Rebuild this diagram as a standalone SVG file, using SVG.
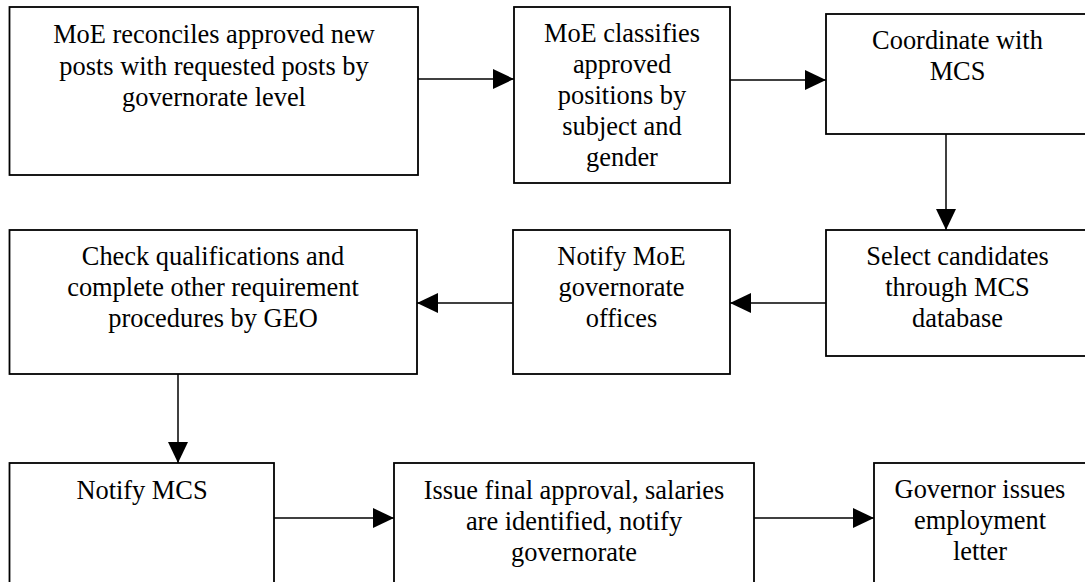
<svg xmlns="http://www.w3.org/2000/svg" width="1085" height="582" viewBox="0 0 1085 582">
  <style>
    .box { fill: #ffffff; stroke: #000000; stroke-width: 1.8; }
    .lbl { font-family: "Liberation Serif", "Times New Roman", serif; font-size: 26.4px; fill: #000000; text-anchor: middle; }
    .conn { stroke: #000000; stroke-width: 1.5; fill: none; marker-end: url(#head); }
  </style>
  <defs>
    <marker id="head" markerUnits="userSpaceOnUse" markerWidth="21" markerHeight="20" refX="21" refY="10" orient="auto">
      <path d="M0,0 L21,10 L0,20 Z" fill="#000000"/>
    </marker>
  </defs>
  <rect width="1085" height="582" fill="#ffffff"/>

  <g id="reconcile">
    <rect class="box" x="9.5" y="7" width="408.5" height="168"/>
    <text class="lbl" x="214" y="43">MoE reconciles approved new</text>
    <text class="lbl" x="214" y="75">posts with requested posts by</text>
    <text class="lbl" x="214" y="106">governorate level</text>
  </g>

  <g id="classify">
    <rect class="box" x="514" y="7" width="216" height="176"/>
    <text class="lbl" x="622" y="42">MoE classifies</text>
    <text class="lbl" x="622" y="73">approved</text>
    <text class="lbl" x="622" y="104">positions by</text>
    <text class="lbl" x="622" y="135">subject and</text>
    <text class="lbl" x="622" y="166">gender</text>
  </g>

  <g id="coordinate">
    <rect class="box" x="826" y="14" width="263" height="120"/>
    <text class="lbl" x="957.5" y="49">Coordinate with</text>
    <text class="lbl" x="957.5" y="80">MCS</text>
  </g>

  <g id="select">
    <rect class="box" x="826" y="230" width="263" height="126"/>
    <text class="lbl" x="957.5" y="265">Select candidates</text>
    <text class="lbl" x="957.5" y="296">through MCS</text>
    <text class="lbl" x="957.5" y="327">database</text>
  </g>

  <g id="notify-moe">
    <rect class="box" x="513" y="230" width="217" height="144"/>
    <text class="lbl" x="621.5" y="265">Notify MoE</text>
    <text class="lbl" x="621.5" y="296">governorate</text>
    <text class="lbl" x="621.5" y="327">offices</text>
  </g>

  <g id="check">
    <rect class="box" x="9.5" y="230" width="407.5" height="144"/>
    <text class="lbl" x="213" y="265">Check qualifications and</text>
    <text class="lbl" x="213" y="296">complete other requirement</text>
    <text class="lbl" x="213" y="327">procedures by GEO</text>
  </g>

  <g id="notify-mcs">
    <rect class="box" x="9.5" y="463" width="264.5" height="130"/>
    <text class="lbl" x="142" y="499">Notify MCS</text>
  </g>

  <g id="approve">
    <rect class="box" x="394" y="463" width="360" height="130"/>
    <text class="lbl" x="574" y="499">Issue final approval, salaries</text>
    <text class="lbl" x="574" y="530">are identified, notify</text>
    <text class="lbl" x="574" y="561">governorate</text>
  </g>

  <g id="letter">
    <rect class="box" x="874" y="463" width="215" height="130"/>
    <text class="lbl" x="980" y="498">Governor issues</text>
    <text class="lbl" x="980" y="529">employment</text>
    <text class="lbl" x="980" y="560">letter</text>
  </g>

  <g id="connectors">
    <line class="conn" x1="418" y1="79" x2="514" y2="79"/>
    <line class="conn" x1="730" y1="80" x2="826" y2="80"/>
    <line class="conn" x1="946" y1="134" x2="946" y2="230"/>
    <line class="conn" x1="826" y1="303" x2="730" y2="303"/>
    <line class="conn" x1="513" y1="303" x2="417" y2="303"/>
    <line class="conn" x1="178" y1="374" x2="178" y2="463"/>
    <line class="conn" x1="274" y1="518" x2="394" y2="518"/>
    <line class="conn" x1="754" y1="518" x2="874" y2="518"/>
  </g>
</svg>
